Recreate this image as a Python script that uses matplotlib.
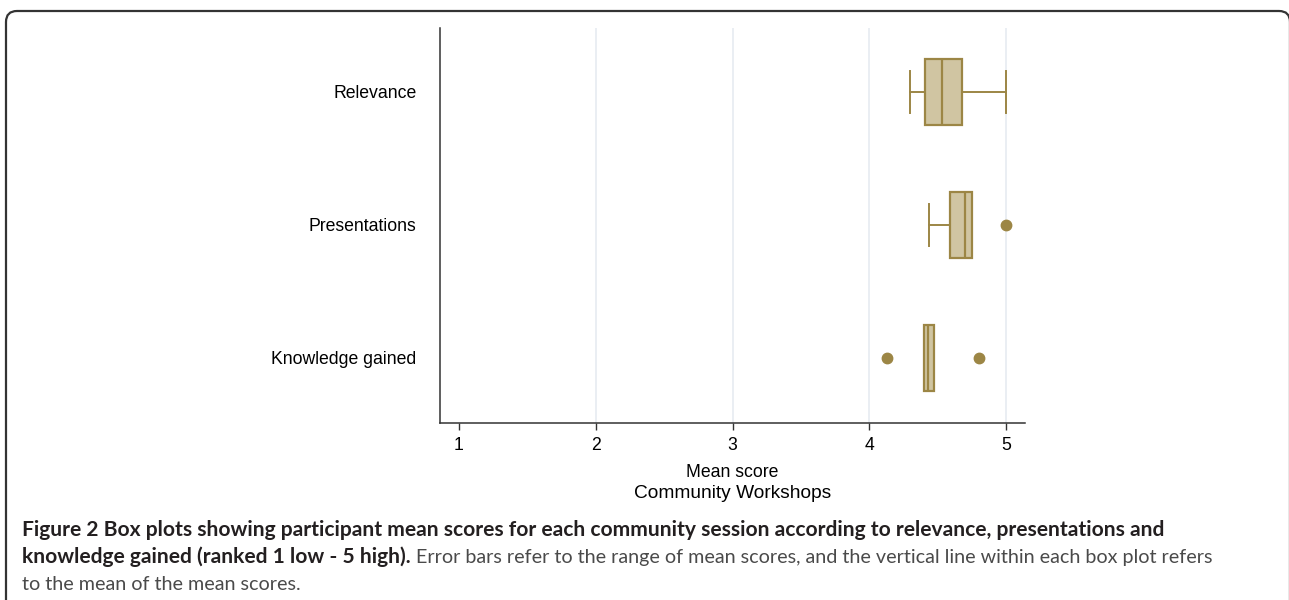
import matplotlib
matplotlib.use("Agg")
import matplotlib.pyplot as plt
from matplotlib.patches import FancyBboxPatch
from matplotlib.transforms import IdentityTransform

categories = ["Relevance", "Presentations", "Knowledge gained"]
q1 = [4.41, 4.59, 4.40]
median = [4.53, 4.70, 4.43]
q3 = [4.68, 4.75, 4.47]
whisker_low = [4.30, 4.44, 4.40]
whisker_high = [5.00, 4.75, 4.47]
outliers = [[], [5.00], [4.13, 4.80]]
xticks = [1, 2, 3, 4, 5]
xlabel = "Mean score"
subtitle = "Community Workshops"

edge = "#9C8645"
fill = "#D0C5A2"

fig = plt.figure(figsize=(12.89, 6.0), dpi=100)
frame = FancyBboxPatch((6, -30), 1284, 600 - 11 + 30,
                       boxstyle="round,pad=0,rounding_size=11",
                       transform=IdentityTransform(), fill=False, edgecolor="#333333",
                       linewidth=1.6, clip_on=False)
fig.patches.append(frame)

ax = fig.add_axes([440 / 1289, 1 - 423 / 600, 585 / 1289, (423 - 28) / 600])

stats = []
for i, c in enumerate(categories):
    stats.append(dict(label=c, q1=q1[i], med=median[i], q3=q3[i],
                      whislo=whisker_low[i], whishi=whisker_high[i], fliers=outliers[i]))

positions = list(range(len(categories)))
ax.bxp(stats, positions=positions, orientation="horizontal", widths=0.5,
       capwidths=0.32, patch_artist=True, showfliers=True,
       boxprops=dict(facecolor=fill, edgecolor=edge, linewidth=1.6),
       medianprops=dict(color=edge, linewidth=1.6),
       whiskerprops=dict(color=edge, linewidth=1.4),
       capprops=dict(color=edge, linewidth=1.4),
       flierprops=dict(marker="o", markerfacecolor=edge, markeredgecolor=edge,
                       markersize=7.5, linestyle="none"))

fs_ax = 12.7
ax.set_xlim(0.861, 5.139)
ax.set_ylim(2.49, -0.48)
ax.set_xticks(xticks)
ax.set_xticklabels([str(t) for t in xticks], fontsize=fs_ax, family="Liberation Sans")
ax.set_yticks(positions)
ax.set_yticklabels(categories, fontsize=fs_ax, family="Liberation Sans")
ax.tick_params(axis="y", length=0, pad=17)
ax.tick_params(axis="x", length=5, width=1, color="#333333", pad=5)
for t in xticks[1:]:
    ax.axvline(t, color="#E8EDF2", linewidth=1.3, zorder=0)
ax.spines["top"].set_visible(False)
ax.spines["right"].set_visible(False)
for s in ("left", "bottom"):
    ax.spines[s].set_color("#333333")
    ax.spines[s].set_linewidth(1.1)
ax.set_xlabel(xlabel, fontsize=fs_ax, family="Liberation Sans", labelpad=7)
fig.text(733 / 1289, 1 - 493 / 600, subtitle, fontsize=13.8, family="Liberation Sans",
         ha="center", va="center")

cap_font = ["Lato", "DejaVu Sans"]
bold1 = "Figure 2 Box plots showing participant mean scores for each community session according to relevance, presentations and"
bold2 = "knowledge gained (ranked 1 low - 5 high)."
norm2 = " Error bars refer to the range of mean scores, and the vertical line within each box plot refers"
norm3 = "to the mean of the mean scores."
fs_b = 15.1
fs_n = 14.2
fig.text(22 / 1289, 1 - 530 / 600, bold1, fontsize=fs_b, fontweight="bold", family=cap_font,
         color="#231F20", va="center")
t2 = fig.text(22 / 1289, 1 - 557 / 600, bold2, fontsize=fs_b, fontweight="bold", family=cap_font,
              color="#231F20", va="center")
ax.annotate(norm2, xy=(1, 0.5), xycoords=t2, va="center", ha="left",
            fontsize=fs_n, fontweight="normal", family=cap_font, color="#4A4A4A",
            annotation_clip=False)
fig.text(22 / 1289, 1 - 584 / 600, norm3, fontsize=fs_n, fontweight="normal", family=cap_font,
         color="#4A4A4A", va="center")

fig.savefig("out.png", dpi=100)
